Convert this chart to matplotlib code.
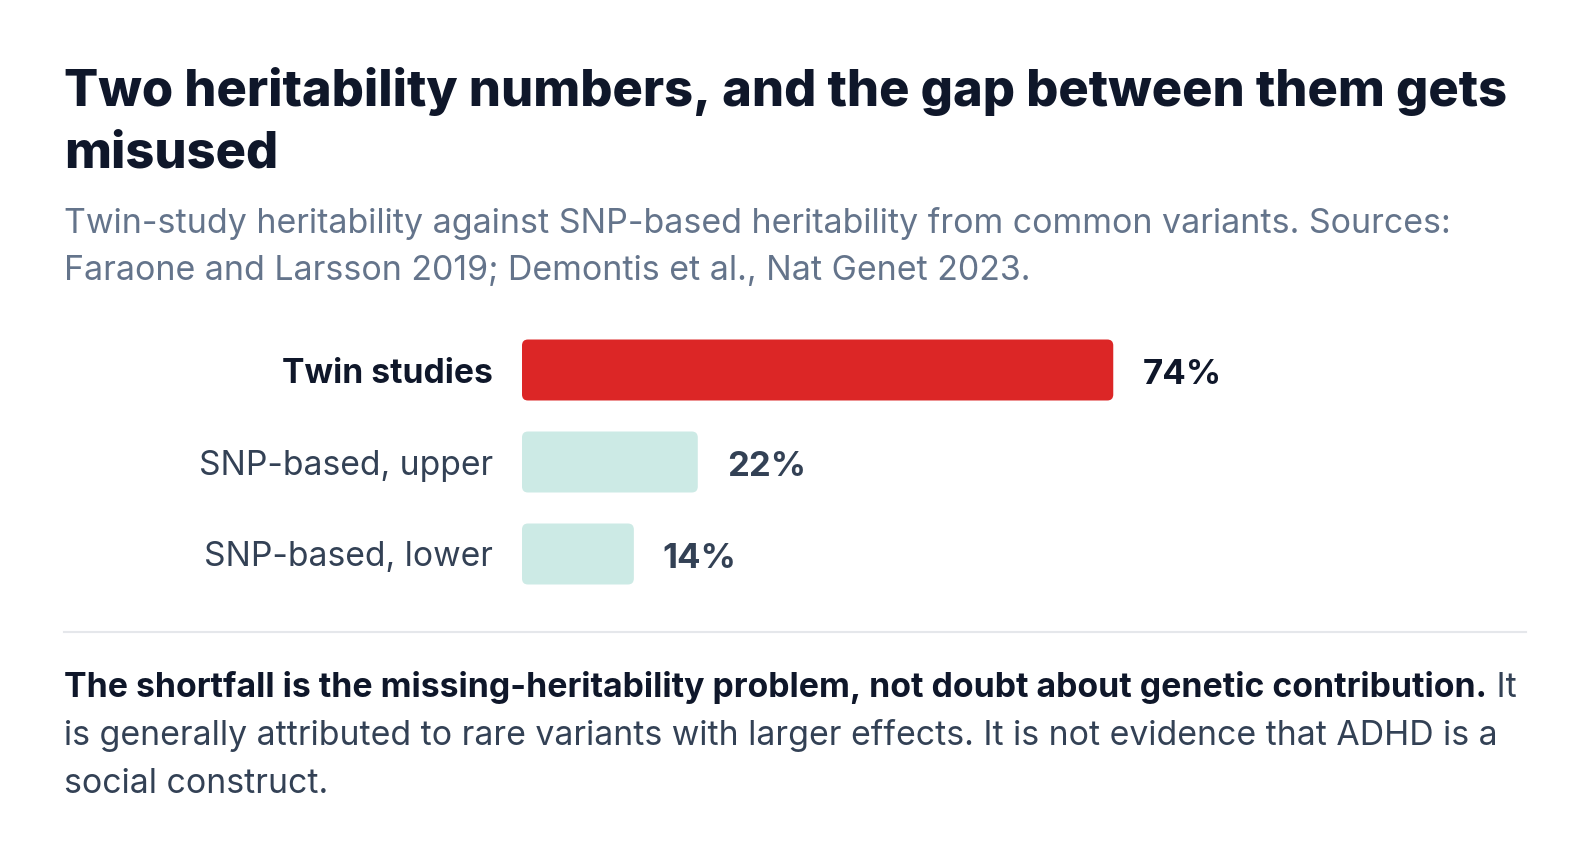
import matplotlib
matplotlib.use("Agg")
import matplotlib.pyplot as plt
from matplotlib.patches import FancyBboxPatch
from matplotlib.lines import Line2D

# data
categories = ["Twin studies", "SNP-based, upper", "SNP-based, lower"]
values = [74, 22, 14]
value_labels = ["74%", "22%", "14%"]

title_lines = ["Two heritability numbers, and the gap between them gets", "misused"]
subtitle_lines = [
    "Twin-study heritability against SNP-based heritability from common variants. Sources:",
    "Faraone and Larsson 2019; Demontis et al., Nat Genet 2023.",
]
note_bold = "The shortfall is the missing-heritability problem, not doubt about genetic contribution."
note_lines = [
    " It",
    "is generally attributed to rare variants with larger effects. It is not evidence that ADHD is a",
    "social construct.",
]

W, H = 1590, 843
DARK = "#0f172a"
SLATE = "#334155"
GREY = "#64748b"
RED = "#dc2626"
TEAL = "#cceae5"

plt.rcParams["font.family"] = ["Inter", "DejaVu Sans"]

fig = plt.figure(figsize=(W / 100, H / 100), dpi=100)
fig.patch.set_facecolor("white")
renderer = fig.canvas.get_renderer()


def fy(px):
    return 1 - px / H


def fit(text, width_px, weight="normal"):
    # font size that makes the string this wide
    t = fig.text(0, 0, text, fontsize=20, fontweight=weight)
    w = t.get_window_extent(renderer).width
    t.remove()
    return 20 * width_px / w


x0 = 64 / W

# title
ts = fit(title_lines[0], 1441, 800)
fig.text(x0, fy(106.5), title_lines[0], fontsize=ts, fontweight=800, color=DARK, va="baseline")
fig.text(x0, fy(167.5), title_lines[1], fontsize=ts, fontweight=800, color=DARK, va="baseline")

# subtitle
ss = fit(subtitle_lines[0], 1384)
fig.text(x0, fy(233), subtitle_lines[0], fontsize=ss, color=GREY, va="baseline")
fig.text(x0, fy(280), subtitle_lines[1], fontsize=ss, color=GREY, va="baseline")

# bars
ax = fig.add_axes([522 / W, fy(600), 799 / W, 276 / H])
bars = ax.barh(range(len(values)), values, height=0.663, color=[RED, TEAL, TEAL])
ax.set_xlim(0, 100)
ax.set_ylim(2.5, -0.5)

px_x = 799 / 100
px_y = 276 / 3
for b in bars:
    b.set_visible(False)
    rb = FancyBboxPatch((b.get_x(), b.get_y()), b.get_width(), b.get_height(),
                        boxstyle="round,pad=0,rounding_size=%f" % (6 / px_x),
                        mutation_aspect=px_x / px_y,
                        facecolor=b.get_facecolor(), edgecolor="none")
    ax.add_patch(rb)

ls = fit(categories[1], 294)
ax.set_yticks(range(len(categories)))
ax.set_yticklabels(categories, fontsize=ls)
for i, lab in enumerate(ax.get_yticklabels()):
    if i == 0:
        lab.set_fontweight("bold")
        lab.set_color(DARK)
    else:
        lab.set_color(SLATE)
ax.tick_params(axis="y", length=0, pad=29 * 0.72)
ax.set_xticks([])
for s in ax.spines.values():
    s.set_visible(False)

vs = fit(value_labels[0], 79, "bold")
for i, v in enumerate(values):
    ax.annotate(value_labels[i], (v, i), xytext=(29 * 0.72, -13.5 * 0.72), textcoords="offset points",
                va="baseline", ha="left", fontsize=vs, fontweight="bold",
                color=DARK if i == 0 else SLATE)

# divider
fig.add_artist(Line2D([64 / W, 1526 / W], [fy(632), fy(632)], color="#e5e7eb", lw=1.5))

# note
ns = fit(note_lines[1], 1432)
tb = fig.text(x0, fy(697), note_bold, fontsize=ns, fontweight="bold", color=DARK, va="baseline")
bb = tb.get_window_extent(renderer)
fig.text(bb.x1 / W, fy(697), note_lines[0], fontsize=ns, color=SLATE, va="baseline")
fig.text(x0, fy(745), note_lines[1], fontsize=ns, color=SLATE, va="baseline")
fig.text(x0, fy(793), note_lines[2], fontsize=ns, color=SLATE, va="baseline")

fig.savefig("out.png", dpi=100, facecolor="white")
